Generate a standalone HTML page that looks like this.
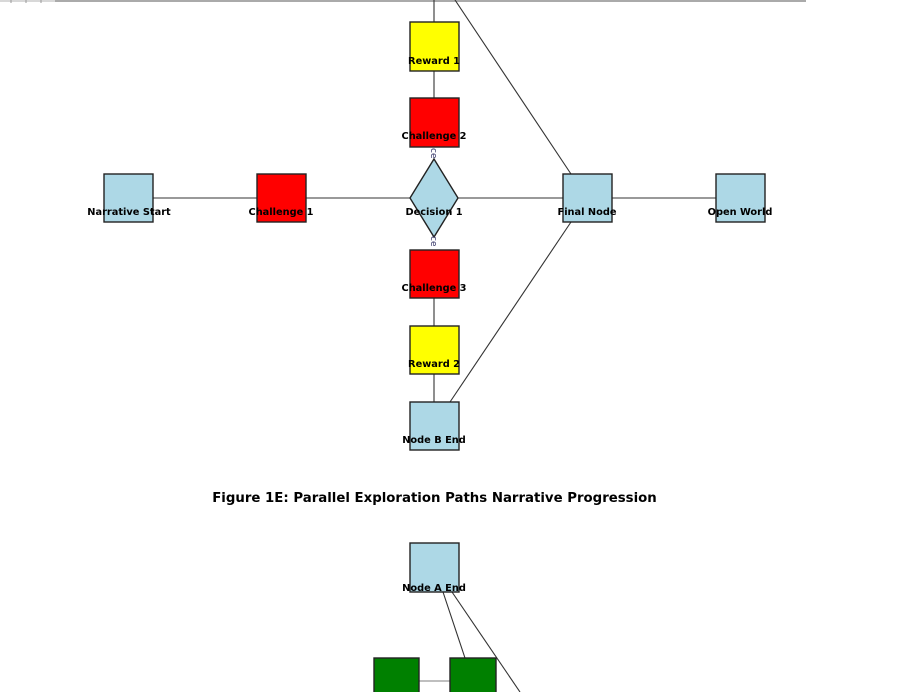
<!DOCTYPE html>
<html><head><meta charset="utf-8"><style>
html,body{margin:0;padding:0;background:#fff;width:921px;height:692px;overflow:hidden}
svg{display:block}
text{font-family:"DejaVu Sans","Liberation Sans",sans-serif;font-weight:bold;fill:#000}
</style></head><body>
<svg width="921" height="692" viewBox="0 0 921 692" xmlns="http://www.w3.org/2000/svg">
<line x1="0" y1="1" x2="55" y2="1" stroke="#ccc" stroke-width="1.5"/>
<line x1="55" y1="1" x2="806" y2="1" stroke="#777" stroke-width="1.2"/>
<g stroke="#999" stroke-width="1">
<line x1="11" y1="0" x2="11" y2="3"/><line x1="26" y1="0" x2="26" y2="3"/><line x1="41" y1="0" x2="41" y2="3"/>
</g>
<g stroke="#333" stroke-width="1.1">
<line x1="434" y1="0" x2="434" y2="22"/>
<line x1="434" y1="71" x2="434" y2="98"/>
<line x1="455" y1="0" x2="571" y2="174"/>
<line x1="571" y1="222" x2="450" y2="402"/>
<line x1="153" y1="198" x2="257" y2="198"/>
<line x1="306" y1="198" x2="410" y2="198"/>
<line x1="458" y1="198" x2="563" y2="198"/>
<line x1="612" y1="198" x2="716" y2="198"/>
<line x1="434" y1="298" x2="434" y2="326"/>
<line x1="434" y1="374" x2="434" y2="402"/>
<line x1="443" y1="592" x2="465" y2="658"/>
<line x1="452" y1="592" x2="520" y2="692"/>
</g>
<line x1="419" y1="681" x2="450" y2="681" stroke="#999" stroke-width="1.2"/>
<g stroke="#222" stroke-width="1.4">
<rect x="410" y="22" width="49" height="49" fill="#ffff00"/>
<rect x="410" y="98" width="49" height="49" fill="#ff0000"/>
<polygon points="434,159 458,198 434,237 410,198" fill="#add8e6"/>
<rect x="104" y="174" width="49" height="48" fill="#add8e6"/>
<rect x="257" y="174" width="49" height="48" fill="#ff0000"/>
<rect x="563" y="174" width="49" height="48" fill="#add8e6"/>
<rect x="716" y="174" width="49" height="48" fill="#add8e6"/>
<rect x="410" y="250" width="49" height="48" fill="#ff0000"/>
<rect x="410" y="326" width="49" height="48" fill="#ffff00"/>
<rect x="410" y="402" width="49" height="48" fill="#add8e6"/>
<rect x="410" y="543" width="49" height="49" fill="#add8e6"/>
<rect x="374" y="658" width="45" height="40" fill="#008000"/>
<rect x="450" y="658" width="46" height="40" fill="#008000"/>
</g>
<g font-size="9.8" text-anchor="middle">
<text x="434" y="64">Reward 1</text>
<text x="434" y="139">Challenge 2</text>
<text x="434" y="215">Decision 1</text>
<text x="129" y="215">Narrative Start</text>
<text x="281" y="215">Challenge 1</text>
<text x="587" y="215">Final Node</text>
<text x="740" y="215">Open World</text>
<text x="434" y="291">Challenge 3</text>
<text x="434" y="367">Reward 2</text>
<text x="434" y="443">Node B End</text>
<text x="434" y="591">Node A End</text>
</g>
<text x="431" y="148" font-size="9" style="fill:#336;font-weight:normal" transform="rotate(90 431 148)" text-anchor="start">ce</text>
<text x="431" y="236" font-size="9" style="fill:#336;font-weight:normal" transform="rotate(90 431 236)" text-anchor="start">ce</text>
<text x="434.5" y="502" font-size="13.3" text-anchor="middle">Figure 1E: Parallel Exploration Paths Narrative Progression</text>
</svg>
</body></html>
